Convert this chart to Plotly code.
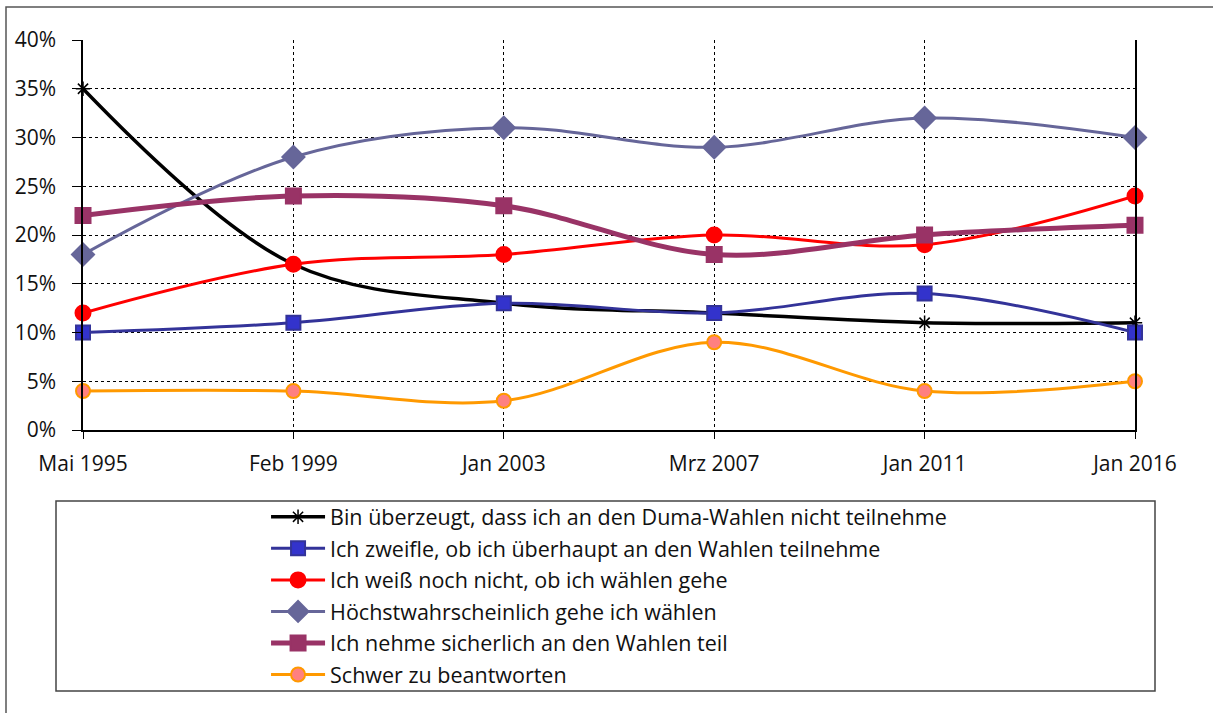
import plotly.graph_objects as go

dates = ["Mai 1995", "Feb 1999", "Jan 2003", "Mrz 2007", "Jan 2011", "Jan 2016"]

names = [
    "Bin überzeugt, dass ich an den Duma-Wahlen nicht teilnehme",
    "Ich zweifle, ob ich überhaupt an den Wahlen teilnehme",
    "Ich weiß noch nicht, ob ich wählen gehe",
    "Höchstwahrscheinlich gehe ich wählen",
    "Ich nehme sicherlich an den Wahlen teil",
    "Schwer zu beantworten",
]

nicht_teilnehmen = [35, 17, 13, 12, 11, 11]
zweifle = [10, 11, 13, 12, 14, 10]
weiss_nicht = [12, 17, 18, 20, 19, 24]
hoechstwahrscheinlich = [18, 28, 31, 29, 32, 30]
sicherlich = [22, 24, 23, 18, 20, 21]
schwer = [4, 4, 3, 9, 4, 5]

series = [nicht_teilnehmen, zweifle, weiss_nicht, hoechstwahrscheinlich, sicherlich, schwer]

# line colour, width, marker symbol, marker fill, marker size, marker outline
styles = [
    ("black", 3.5, "asterisk-open", "black", 12, "black"),
    ("#333399", 3, "square", "#3333CC", 14, "#333399"),
    ("#FF0000", 3, "circle", "#FF0000", 15, "#FF0000"),
    ("#666699", 3, "diamond", "#666699", 17, "#666699"),
    ("#993366", 5, "square", "#993366", 15, "#993366"),
    ("#FF9900", 3, "circle", "#FF8080", 14, "#FF9900"),
]

fig = go.Figure()
for i, (name, vals) in enumerate(zip(names, series)):
    lc, lw, sym, mc, ms, mlc = styles[i]
    fig.add_trace(go.Scatter(
        x=dates, y=vals, name=name, legendgroup=str(i),
        mode="lines+markers", line=dict(color=lc, width=lw, shape="spline", smoothing=1),
        marker=dict(symbol=sym, color=mc, size=ms, line=dict(color=mlc, width=2 if sym != "asterisk-open" else 1.5)),
        cliponaxis=False,
    ))

font = "Open Sans"

fig.update_layout(
    width=1213, height=713,
    margin=dict(l=83, r=78, t=40, b=283),
    paper_bgcolor="white", plot_bgcolor="white",
    font=dict(family=font, size=21, color="#111111"),
    showlegend=True,
    legend=dict(x=0.174, y=-0.17, xanchor="left", yanchor="top",
                font=dict(size=21.5, family=font), tracegroupgap=0.6,
                itemwidth=54, bgcolor="rgba(0,0,0,0)"),
    xaxis=dict(range=[0, 5], showline=True, linecolor="black", linewidth=1.5,
               showgrid=True, gridcolor="black", griddash="dot", gridwidth=1,
               ticks="outside", ticklen=7, tickcolor="black", tickfont=dict(size=21),
               ticklabelstandoff=7, zeroline=False, fixedrange=True),
    yaxis=dict(range=[0, 40], dtick=5, ticksuffix="%", showline=True, linecolor="black",
               linewidth=1.5, mirror=True, showgrid=True, gridcolor="black", griddash="dot",
               gridwidth=1, ticks="outside", ticklen=9, tickcolor="black",
               tickfont=dict(size=21), ticklabelstandoff=12, zeroline=False, fixedrange=True),
    shapes=[
        dict(type="rect", xref="paper", yref="paper",
             x0=(6 - 83) / 1052, x1=(1220 - 83) / 1052,
             y0=(430 - 720) / 390, y1=(430 - 7) / 390,
             line=dict(color="#555555", width=1.5), layer="below"),
        dict(type="rect", xref="paper", yref="paper",
             x0=(56 - 83) / 1052, x1=(1155 - 83) / 1052,
             y0=(430 - 691) / 390, y1=(430 - 501) / 390,
             line=dict(color="#444444", width=1.5), layer="below"),
    ],
)

# drop the default page margin so the figure sits at the window's top-left corner
fig.write_html("out.html", config={"displayModeBar": False},
               post_script="document.body.style.margin='0';")
